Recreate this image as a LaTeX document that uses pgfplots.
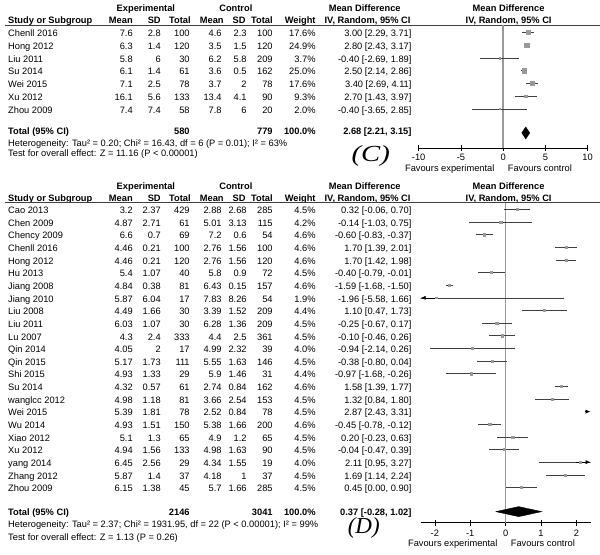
\documentclass[border=0pt]{standalone}
\usepackage{fontspec}
\setmainfont{Liberation Sans}
\newfontfamily\tnr{Liberation Serif}
\usepackage{pgfplots}
\usepackage{pgfplotstable}
\pgfplotsset{compat=1.18}
\usetikzlibrary{arrows.meta}
\newcommand\tf{\fontsize{9.3bp}{11bp}\selectfont}

% Panel C: mean difference, y position (bp from top, negated), CI, half square side
\pgfplotstableread{
md     y        lo     hi     s
3.00   -32.5    2.29   3.71   1.96
2.80   -45.25   2.43   3.17   2.33
-0.40  -58      -2.69  1.89   0.9
2.50   -70.75   2.14   2.86   2.34
3.40   -83.5    2.69   4.11   1.96
2.70   -96.25   1.43   3.97   1.43
-0.40  -109     -3.65  2.85   0.66
}\tblC

% Panel D
\pgfplotstableread{
md     y        lo     hi     s
0.32   -209.5   -0.06  0.70   1.1
-0.14  -222.15  -1.03  0.75   1.05
-0.60  -234.8   -0.83  -0.37  1.1
1.70   -247.45  1.39   2.01   1.1
1.70   -260.1   1.42   1.98   1.1
-0.40  -272.75  -0.79  -0.01  1.1
-1.59  -285.4   -1.68  -1.50  1.1
-1.96  -298.05  -5.58  1.66   0.7
1.10   -310.7   0.47   1.73   1.08
-0.25  -323.35  -0.67  0.17   1.1
-0.10  -336.0   -0.46  0.26   1.1
-0.94  -348.65  -2.14  0.26   1.03
-0.38  -361.3   -0.80  0.04   1.1
-0.97  -373.95  -1.68  -0.26  1.08
1.58   -386.6   1.39   1.77   1.1
1.32   -399.25  0.84   1.80   1.1
2.87   -411.9   2.43   3.31   1.1
-0.45  -424.55  -0.78  -0.12  1.1
0.20   -437.2   -0.23  0.63   1.1
-0.04  -449.85  -0.47  0.39   1.1
2.11   -462.5   0.95   3.27   1.03
1.69   -475.15  1.14   2.24   1.1
0.45   -487.8   0.00   0.90   1.1
}\tblD

\newcommand\trow[9]{\def\ry{#1}%
 \node[anchor=base west] at (8,#1) {#2};
 \node[anchor=base east] at (133,#1) {#3};
 \node[anchor=base east] at (161,#1) {#4};
 \node[anchor=base east] at (190,#1) {#5};
 \node[anchor=base east] at (222,#1) {#6};
 \node[anchor=base east] at (247,#1) {#7};
 \node[anchor=base east] at (273,#1) {#8};
 \node[anchor=base east] at (316,#1) {#9};
 \trowci}
\newcommand\trowci[1]{\node[anchor=base east] at (412,\ry) {#1};}

\newcommand\headers[3]{% #1 row1 baseline, #2 row2 baseline, #3 rule y
 \node[anchor=base,font=\tf\bfseries] at (146,#1) {Experimental};
 \node[anchor=base,font=\tf\bfseries] at (236,#1) {Control};
 \node[anchor=base,font=\tf\bfseries] at (365,#1) {Mean Difference};
 \node[anchor=base,font=\tf\bfseries] at (509,#1) {Mean Difference};
 \node[anchor=base west,font=\tf\bfseries] at (8,#2) {Study or Subgroup};
 \node[anchor=base east,font=\tf\bfseries] at (133,#2) {Mean};
 \node[anchor=base east,font=\tf\bfseries] at (161,#2) {SD};
 \node[anchor=base east,font=\tf\bfseries] at (191,#2) {Total};
 \node[anchor=base east,font=\tf\bfseries] at (224,#2) {Mean};
 \node[anchor=base east,font=\tf\bfseries] at (246,#2) {SD};
 \node[anchor=base east,font=\tf\bfseries] at (273,#2) {Total};
 \node[anchor=base east,font=\tf\bfseries] at (316,#2) {Weight};
 \node[anchor=base east,font=\tf\bfseries] at (411,#2) {IV, Random, 95\% CI};
 \node[anchor=base,font=\tf\bfseries] at (509,#2) {IV, Random, 95\% CI};
 \draw[black!75,line width=0.9bp] (5,#3) -- (600,#3);
}

\pgfplotsset{forest/.style={
  scale only axis, anchor=south west,
  axis x line*=bottom, hide y axis,
  tick align=center, major tick length=6bp,
  tick style={black,line width=0.6bp},
  axis line style={black,line width=0.6bp},
  xticklabel style={font=\tf,anchor=base,inner sep=0pt},
  /pgf/number format/assume math mode=true,
  clip=true,
}}

\begin{document}
\begin{tikzpicture}[x=1bp,y=-1bp,every node/.style={inner sep=0pt,font=\tf}]
\path (0,0) rectangle (600,555);

%================ Panel C =================
\headers{11.8}{24}{25.5}
\trow{36.8}{Chenll 2016}{7.6}{2.8}{100}{4.6}{2.3}{100}{17.6\%}{3.00 [2.29, 3.71]}
\trow{49.55}{Hong 2012}{6.3}{1.4}{120}{3.5}{1.5}{120}{24.9\%}{2.80 [2.43, 3.17]}
\trow{62.3}{Liu 2011}{5.8}{6}{30}{6.2}{5.8}{209}{3.7\%}{-0.40 [-2.69, 1.89]}
\trow{75.05}{Su 2014}{6.1}{1.4}{61}{3.6}{0.5}{162}{25.0\%}{2.50 [2.14, 2.86]}
\trow{87.8}{Wei 2015}{7.1}{2.5}{78}{3.7}{2}{78}{17.6\%}{3.40 [2.69, 4.11]}
\trow{100.55}{Xu 2012}{16.1}{5.6}{133}{13.4}{4.1}{90}{9.3\%}{2.70 [1.43, 3.97]}
\trow{113.3}{Zhou 2009}{7.4}{7.4}{58}{7.8}{6}{20}{2.0\%}{-0.40 [-3.65, 2.85]}

\begin{scope}[every node/.append style={font=\tf\bfseries}]
\node[anchor=base west] at (8,135) {Total (95\% CI)};
\node[anchor=base east] at (190,135) {580};
\node[anchor=base east] at (273,135) {779};
\node[anchor=base east] at (316,135) {100.0\%};
\node[anchor=base east] at (412,135) {2.68 [2.21, 3.15]};
\end{scope}
\node[anchor=base west] at (8,146.3) {Heterogeneity: Tau² = 0.20; Chi² = 16.43, df = 6 (P = 0.01); I² = 63\%};
\node[anchor=base west] at (8,156.5) {Test for overall effect: Z = 11.16 (P < 0.00001)};

\node[font=\tnr\itshape\fontsize{23bp}{26bp}\selectfont,xscale=1.25] at (371,156) {(C)};
\node[anchor=base east] at (495,171.5) {Favours experimental};
\node[anchor=base west] at (508,171.5) {Favours control};

\begin{axis}[forest, at={(419bp,-148.3bp)}, width=169bp, height=122.8bp,
  xmin=-10, xmax=10, ymin=-148.3, ymax=-25.5,
  xtick={-10,-5,0,5,10}, xticklabel style={yshift=-9.2bp}]
  \addplot[black!40,line width=1.3bp,forget plot] coordinates {(0,-25.5) (0,-148.3)};
  \addplot[draw=none,mark=none,forget plot,
    error bars/.cd, x dir=both, x explicit, error mark=none,
    error bar style={draw=black!75,line width=0.55bp}]
    table[x=md,y=y,x error plus expr=\thisrow{hi}-\thisrow{md},x error minus expr=\thisrow{md}-\thisrow{lo}] \tblC;
  \addplot[scatter,only marks,mark=square*,
    scatter/use mapped color={draw=black!40,fill=black!40},
    visualization depends on={\thisrow{s}\as\ms},
    scatter/@pre marker code/.append style={/tikz/mark size=\ms}]
    table[x=md,y=y] \tblC;
  \addplot[fill=black,draw=black] coordinates {(2.21,-133) (2.68,-127) (3.15,-133) (2.68,-139) (2.21,-133)};
\end{axis}

%================ Panel D =================
\headers{189.5}{201.3}{202.8}
\trow{213.8}{Cao 2013}{3.2}{2.37}{429}{2.88}{2.68}{285}{4.5\%}{0.32 [-0.06, 0.70]}
\trow{226.45}{Chen 2009}{4.87}{2.71}{61}{5.01}{3.13}{115}{4.2\%}{-0.14 [-1.03, 0.75]}
\trow{239.1}{Chency 2009}{6.6}{0.7}{69}{7.2}{0.6}{54}{4.6\%}{-0.60 [-0.83, -0.37]}
\trow{251.75}{Chenll 2016}{4.46}{0.21}{100}{2.76}{1.56}{100}{4.6\%}{1.70 [1.39, 2.01]}
\trow{264.4}{Hong 2012}{4.46}{0.21}{120}{2.76}{1.56}{120}{4.6\%}{1.70 [1.42, 1.98]}
\trow{277.05}{Hu 2013}{5.4}{1.07}{40}{5.8}{0.9}{72}{4.5\%}{-0.40 [-0.79, -0.01]}
\trow{289.7}{Jiang 2008}{4.84}{0.38}{81}{6.43}{0.15}{157}{4.6\%}{-1.59 [-1.68, -1.50]}
\trow{302.35}{Jiang 2010}{5.87}{6.04}{17}{7.83}{8.26}{54}{1.9\%}{-1.96 [-5.58, 1.66]}
\trow{315.0}{Liu 2008}{4.49}{1.66}{30}{3.39}{1.52}{209}{4.4\%}{1.10 [0.47, 1.73]}
\trow{327.65}{Liu 2011}{6.03}{1.07}{30}{6.28}{1.36}{209}{4.5\%}{-0.25 [-0.67, 0.17]}
\trow{340.3}{Lu 2007}{4.3}{2.4}{333}{4.4}{2.5}{361}{4.5\%}{-0.10 [-0.46, 0.26]}
\trow{352.95}{Qin 2014}{4.05}{2}{17}{4.99}{2.32}{39}{4.0\%}{-0.94 [-2.14, 0.26]}
\trow{365.6}{Qin 2015}{5.17}{1.73}{111}{5.55}{1.63}{146}{4.5\%}{-0.38 [-0.80, 0.04]}
\trow{378.25}{Shi 2015}{4.93}{1.33}{29}{5.9}{1.46}{31}{4.4\%}{-0.97 [-1.68, -0.26]}
\trow{390.9}{Su 2014}{4.32}{0.57}{61}{2.74}{0.84}{162}{4.6\%}{1.58 [1.39, 1.77]}
\trow{403.55}{wanglcc 2012}{4.98}{1.18}{81}{3.66}{2.54}{153}{4.5\%}{1.32 [0.84, 1.80]}
\trow{416.2}{Wei 2015}{5.39}{1.81}{78}{2.52}{0.84}{78}{4.5\%}{2.87 [2.43, 3.31]}
\trow{428.85}{Wu 2014}{4.93}{1.51}{150}{5.38}{1.66}{200}{4.6\%}{-0.45 [-0.78, -0.12]}
\trow{441.5}{Xiao 2012}{5.1}{1.3}{65}{4.9}{1.2}{65}{4.5\%}{0.20 [-0.23, 0.63]}
\trow{454.15}{Xu 2012}{4.94}{1.56}{133}{4.98}{1.63}{90}{4.5\%}{-0.04 [-0.47, 0.39]}
\trow{466.8}{yang 2014}{6.45}{2.56}{29}{4.34}{1.55}{19}{4.0\%}{2.11 [0.95, 3.27]}
\trow{479.45}{Zhang 2012}{5.87}{1.4}{37}{4.18}{1}{37}{4.5\%}{1.69 [1.14, 2.24]}
\trow{492.1}{Zhou 2009}{6.15}{1.38}{45}{5.7}{1.66}{285}{4.5\%}{0.45 [0.00, 0.90]}

\begin{scope}[every node/.append style={font=\tf\bfseries}]
\node[anchor=base west] at (8,515.8) {Total (95\% CI)};
\node[anchor=base east] at (190,515.8) {2146};
\node[anchor=base east] at (273,515.8) {3041};
\node[anchor=base east] at (316,515.8) {100.0\%};
\node[anchor=base east] at (412,515.8) {0.37 [-0.28, 1.02]};
\end{scope}
\node[anchor=base west] at (8,528.3) {Heterogeneity: Tau² = 2.37; Chi² = 1931.95, df = 22 (P < 0.00001); I² = 99\%};
\node[anchor=base west] at (8,540.8) {Test for overall effect: Z = 1.13 (P = 0.26)};

\node[font=\tnr\itshape\fontsize{23bp}{26bp}\selectfont] at (364,528.5) {(D)};
\node[anchor=base east] at (498,546.5) {Favours experimental};
\node[anchor=base west] at (511,546.5) {Favours control};

\begin{axis}[forest, at={(421bp,-523bp)}, width=170bp, height=320.2bp,
  xmin=-2.4, xmax=2.4, ymin=-523, ymax=-202.8,
  xtick={-2,-1,0,1,2}, xticklabel style={yshift=-11bp}]
  \addplot[black!40,line width=1.3bp,forget plot] coordinates {(0,-202.8) (0,-523)};
  \addplot[draw=none,mark=none,forget plot,
    error bars/.cd, x dir=both, x explicit, error mark=none,
    error bar style={draw=black!75,line width=0.55bp}]
    table[x=md,y=y,x error plus expr=\thisrow{hi}-\thisrow{md},x error minus expr=\thisrow{md}-\thisrow{lo}] \tblD;
  \addplot[scatter,only marks,mark=square*,
    scatter/use mapped color={draw=black!40,fill=black!40},
    visualization depends on={\thisrow{s}\as\ms},
    scatter/@pre marker code/.append style={/tikz/mark size=\ms}]
    table[x=md,y=y] \tblD;
  % arrowheads where the CI runs off the scale
  \addplot[black,line width=0.55bp,-{Latex[length=4.5bp,width=4bp]}] coordinates {(-2.0,-298.05) (-2.39,-298.05)};
  \addplot[black,line width=0.55bp,-{Latex[length=4.5bp,width=4bp]}] coordinates {(2.0,-462.5) (2.39,-462.5)};
  \addplot[black,line width=0.55bp,-{Latex[length=4.5bp,width=4bp]}] coordinates {(2.24,-411.9) (2.39,-411.9)};
  \addplot[fill=black,draw=black] coordinates {(-0.28,-512) (0.37,-507) (1.02,-512) (0.37,-517) (-0.28,-512)};
\end{axis}
\end{tikzpicture}
\end{document}
